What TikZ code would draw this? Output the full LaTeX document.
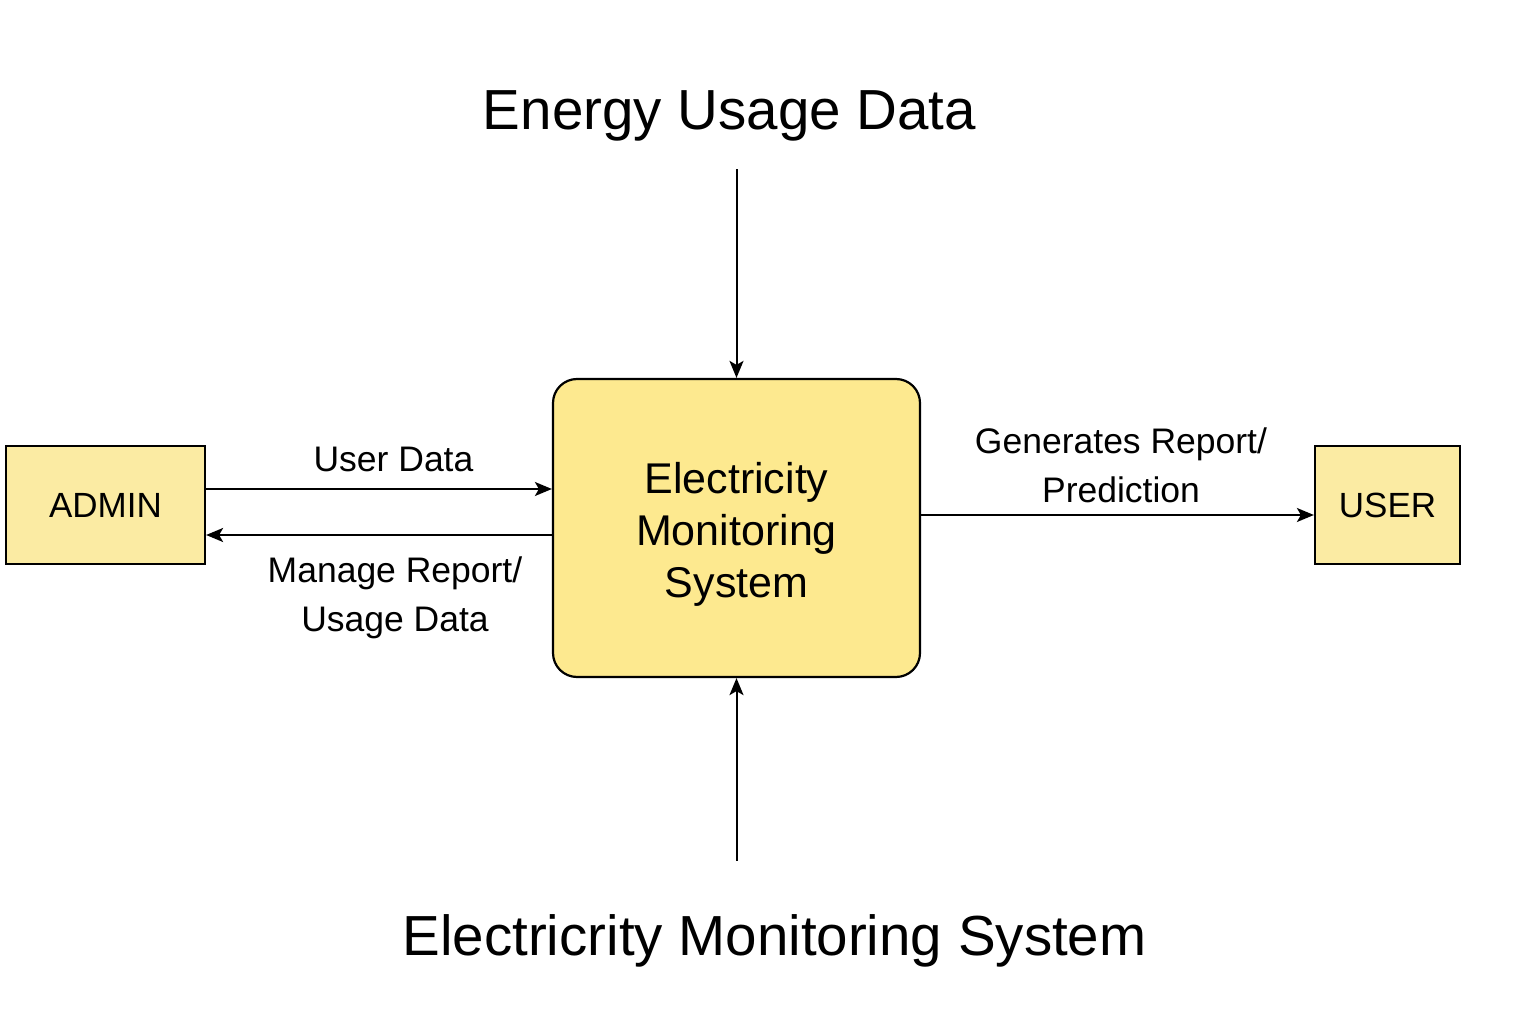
\documentclass[tikz,border=0pt]{standalone}
\usepackage{fontspec}
\setmainfont{Liberation Sans}
\usepackage{tikz}
\usetikzlibrary{arrows.meta, calc, positioning}
\definecolor{procfill}{HTML}{FDE98F}
\definecolor{entfill}{HTML}{FBEBA3}

\begin{document}
\begin{tikzpicture}[x=1pt,y=-1pt,
    flow/.style={line width=2pt,-{Stealth[length=17pt,width=14pt,inset=4pt]}},
    proc/.style={draw,line width=2.2pt,fill=procfill,rounded corners=24pt,minimum width=367pt,minimum height=298pt,align=center,font=\fontsize{43}{52}\selectfont},
    entity/.style={draw,line width=2.2pt,fill=entfill,minimum height=118pt,font=\fontsize{35}{42}\selectfont},
    flowlabel/.style={align=center,font=\fontsize{35.5}{49}\selectfont},
    heading/.style={anchor=base,font=\fontsize{56.5}{68}\selectfont}]
            \useasboundingbox (0,0) rectangle (1536,1024);
            %\draw [step=100pt] (0,0) grid (1536,1024);
            \node[proc] (ems) at (736.5,528) {\\[-8pt]Electricity\\Monitoring\\System};
            \node[entity,minimum width=199pt] (admin) at (105.5,505) {ADMIN};
            \node[entity,minimum width=145pt] (user) at (1387.5,505) {USER};
            \node[heading] (energy) at (729.5,130) {Energy Usage Data};
            \node[heading] (title) at (774.5,955) {Electricrity Monitoring System};

            \draw[flow,shorten <=24pt] (energy.south -| ems.north) -- (ems.north);
            \draw[flow,shorten <=50pt] (title.north -| ems.south) -- (ems.south);

            \draw[flow] ($(admin.east)+(0,-16)$) -- ($(admin.east -| ems.west)+(0,-16)$);
            \draw[flow] ($(ems.west)+(0,7)$) -- ($(ems.west -| admin.east)+(0,7)$);
            \draw[flow] ($(ems.east)+(0,-13)$) -- ($(ems.east -| user.west)+(0,-13)$);

            \node[flowlabel,anchor=base] (udlabel) at (393.5,471) {User Data};
            \node[flowlabel] (mrlabel) at (395,598) {Manage Report/\\Usage Data};
            \node[flowlabel] (grlabel) at (1121,465) {Generates Report/\\Prediction};
\end{tikzpicture}
\end{document}
